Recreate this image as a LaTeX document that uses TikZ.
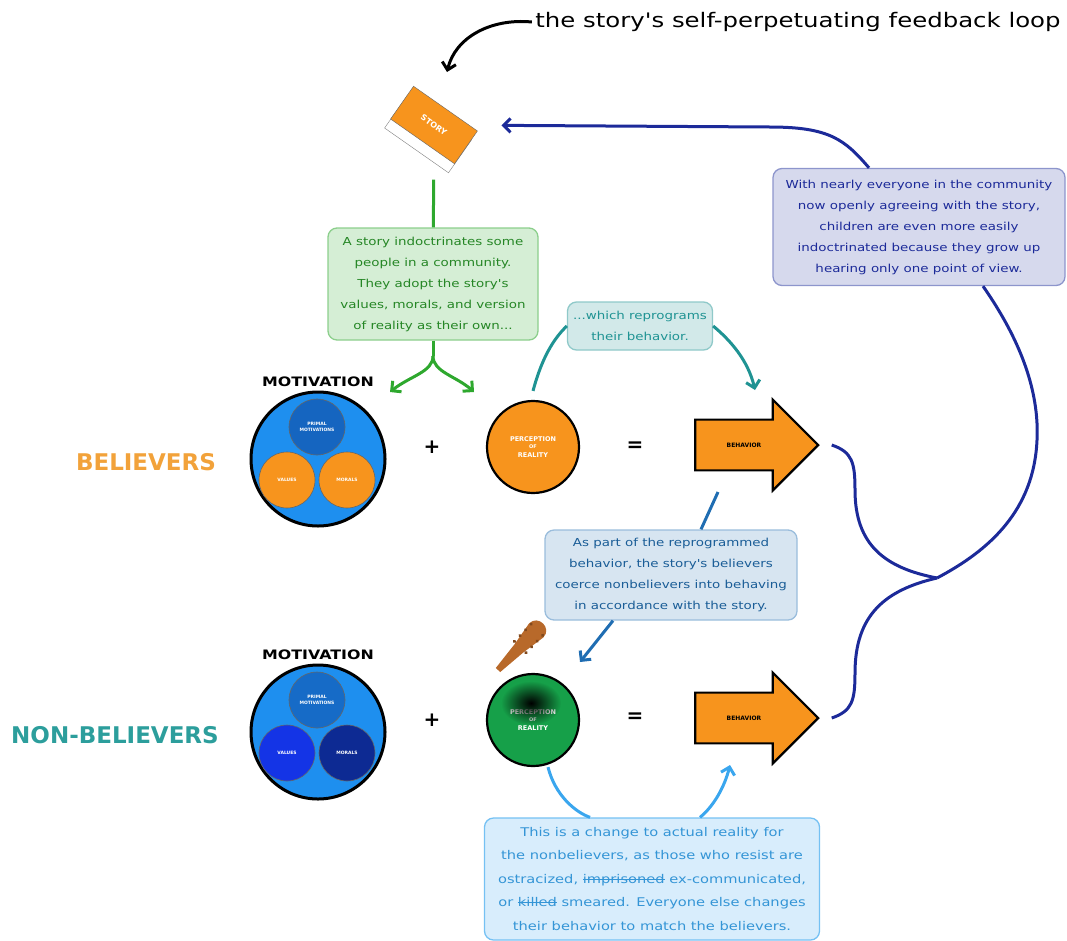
\documentclass[tikz,border=0pt]{standalone}
\usepackage{fontspec}
\setmainfont{DejaVu Sans}
\newfontfamily\handfont[FakeStretch=1.22]{DejaVu Sans}
\usetikzlibrary{arrows.meta,shapes.arrows,fadings}

\newcommand\strikeword[1]{\setbox0\hbox{#1}\rlap{\raisebox{0.3em}{\rule{\wd0}{1pt}}}\box0\relax}

\definecolor{cover}{HTML}{F7941D}
\definecolor{skyring}{HTML}{1E8FEF}
\definecolor{primal}{HTML}{1565C0}
\definecolor{royal}{HTML}{1434E6}
\definecolor{deepnavy}{HTML}{0D2A93}
\definecolor{grass}{HTML}{16A049}
\definecolor{loopnavy}{HTML}{1C2A99}
\definecolor{leaf}{HTML}{2EA82E}
\definecolor{sea}{HTML}{1F9393}
\definecolor{steel}{HTML}{1F6DB2}
\definecolor{sky}{HTML}{3AA6EE}
\definecolor{club}{HTML}{B8692A}
\definecolor{believer}{HTML}{F2A23A}
\definecolor{nonbeliever}{HTML}{2C9E9C}

\tikzfading[name=smudge, inner color=transparent!0, outer color=transparent!100]

\begin{document}
\begin{tikzpicture}[x=1pt, y=-1pt,
  note/.style={draw, rounded corners=9pt, line width=1.3pt, align=center,
    inner sep=0pt, font=\handfont\fontsize{11}{21}\selectfont},
  ring/.style={circle, draw=black, line width=3pt, fill=skyring,
    minimum size=134pt, inner sep=0pt},
  bubble/.style={circle, draw=black!60, line width=0.6pt, minimum size=56pt,
    inner sep=0pt, align=center, text=white,
    font=\fontsize{4.5}{6}\selectfont\bfseries},
  lens/.style={circle, draw=black, line width=2.2pt, minimum size=92pt,
    inner sep=0pt, align=center, text=white,
    font=\fontsize{6.5}{9}\selectfont\bfseries},
  act/.style={single arrow, draw=black, line width=2.2pt, fill=cover,
    minimum height=123pt, inner xsep=4pt, inner ysep=22pt,
    single arrow head extend=20pt, font=\fontsize{6}{7}\selectfont\bfseries},
  sign/.style={font=\fontsize{20}{20}\selectfont\bfseries},
  group/.style={font=\fontsize{23}{23}\selectfont\bfseries},
  heading/.style={font=\handfont\bfseries\fontsize{13}{13}\selectfont},
  inkhead/.style={-{Straight Barb[length=7pt,width=14pt]}},
  wire/.style={line width=3pt},
]
\useasboundingbox (0,0) rectangle (1067,940);

\node[font=\handfont\fontsize{20}{20}\selectfont] (title) at (798,22)
  {the story's self-perpetuating feedback loop};
\coordinate (bookhint) at (447,72);
\draw[wire, inkhead] (title.west) .. controls (490,18) and (455,38) .. (bookhint);

\node[rotate=-35, draw=black!50, fill=white, minimum width=78pt,
  minimum height=40pt] (pages) at (428,134) {};
\node[rotate=-35, draw=black!60, fill=cover, minimum width=78pt,
  minimum height=40pt, text=white,
  font=\fontsize{8}{8}\selectfont\bfseries] (story) at (434,125) {STORY};

\node[note, fill=leaf!20, draw=leaf!55, text=leaf!80!black,
  minimum width=210pt, minimum height=112pt] (indoc) at (433,284)
  {A story indoctrinates some\\people in a community.\\They adopt the story's\\
   values, morals, and version\\of reality as their own...};
\draw[leaf, wire, shorten <=30pt] (story) -- (indoc);
\coordinate (split) at (433,356);
\coordinate (motaim) at (390,392);
\coordinate (percaim) at (474,392);
\draw[leaf, wire] (indoc) -- (split);
\draw[leaf, wire, inkhead] (split) .. controls (433,372) and (410,376) .. (motaim);
\draw[leaf, wire, inkhead] (split) .. controls (433,372) and (456,376) .. (percaim);

\node[note, fill=sea!20, draw=sea!50, text=sea, minimum width=145pt,
  minimum height=48pt] (reprog) at (640,326) {...which reprograms\\their behavior.};

\node[note, fill=loopnavy!18, draw=loopnavy!50, text=loopnavy,
  minimum width=292pt, minimum height=117pt] (feedback) at (919,227)
  {With nearly everyone in the community\\now openly agreeing with the story,\\
   children are even more easily\\indoctrinated because they grow up\\
   hearing only one point of view.};

% believers row
\node[heading] (motlabB) at (318,382) {MOTIVATION};
\node[ring] (motB) at (318,459) {};
\node[bubble, fill=primal] (primB) at (317,427) {PRIMAL\\MOTIVATIONS};
\node[bubble, fill=cover] (valB) at (287,480) {VALUES};
\node[bubble, fill=cover] (morB) at (347,480) {MORALS};
\node[group, text=believer] (believers) at (146,462) {BELIEVERS};
\node[sign] (plusB) at (432,447) {+};
\node[lens, fill=cover] (percB) at (533,447) {PERCEPTION\\[-2pt]{\tiny OF}\\REALITY};
\node[sign] (eqB) at (635,447) {=};
\node[act] (behB) at (744,445) {BEHAVIOR};

\coordinate (reprogaim) at (755,390);
\draw[sea, wire] ([yshift=9pt]percB.north) .. controls (540,365) and (550,342) .. (reprog.west);
\draw[sea, wire, inkhead] (reprog.east) .. controls (730,340) and (748,360) .. (reprogaim);

\node[note, fill=steel!18, draw=steel!45, text=steel!85!black,
  minimum width=252pt, minimum height=90pt] (coerce) at (671,575)
  {As part of the reprogrammed\\behavior, the story's believers\\
   coerce nonbelievers into behaving\\in accordance with the story.};
\coordinate (coercefrom) at (718,492);
\coordinate (clubaim) at (580,662);
\draw[steel, wire] (coercefrom) -- ([xshift=30pt]coerce.north);
\draw[steel, wire, inkhead] ([xshift=-58pt]coerce.south) -- (clubaim);

% non-believers row
\node[heading] (motlabN) at (318,655) {MOTIVATION};
\node[ring] (motN) at (318,732) {};
\node[bubble, fill=primal!85!skyring] (primN) at (317,700) {PRIMAL\\MOTIVATIONS};
\node[bubble, fill=royal] (valN) at (287,753) {VALUES};
\node[bubble, fill=deepnavy] (morN) at (347,753) {MORALS};
\node[group, text=nonbeliever] (nonbelievers) at (115,735) {NON-BELIEVERS};
\node[sign] (plusN) at (432,720) {+};
\node[lens, fill=grass] (percN) at (533,720) {PERCEPTION\\[-2pt]{\tiny OF}\\REALITY};
\fill[black, path fading=smudge] (531,703) ellipse (30pt and 22pt);
\node[sign] (eqN) at (635,718) {=};
\node[act] (behN) at (744,718) {BEHAVIOR};

\begin{scope}[shift={(498,670)}, rotate=46]
  \fill[club] (0,-3) -- (30,-6) -- (55,-10) .. controls (68,-10) and (68,10) .. (55,10)
    -- (30,6) -- (0,3) -- cycle;
  \foreach \s in {32,40,48,56}
    {\fill[club!70!black] (\s,-8) circle (1.8pt);
     \fill[club!70!black] (\s,8) circle (1.8pt);}
\end{scope}

\node[note, fill=sky!20, draw=sky!70, text=sky!90!black, minimum width=335pt,
  minimum height=122pt, font=\handfont\fontsize{12}{23.5}\selectfont] (reality) at (652,879)
  {This is a change to actual reality for\\the nonbelievers, as those who resist are\\
   ostracized, \strikeword{imprisoned} ex-communicated,\\or \strikeword{killed} smeared. Everyone else changes\\
   their behavior to match the believers.};
\coordinate (skyaim) at (730,765);
\draw[sky, wire] ([xshift=15pt]percN.south) .. controls (555,795) and (575,812) .. ([xshift=-62pt]reality.north);
\draw[sky, wire, inkhead] ([xshift=48pt]reality.north) .. controls (715,805) and (725,785) .. (skyaim);

% feedback loop
\coordinate (merge) at (937,578);
\draw[loopnavy, wire] ([xshift=12pt]behB.tip) .. controls (852,452) and (855,462) .. (855,490)
  .. controls (855,545) and (885,568) .. (merge);
\draw[loopnavy, wire] ([xshift=12pt]behN.tip) .. controls (852,711) and (855,701) .. (855,673)
  .. controls (855,615) and (885,590) .. (merge);
\draw[loopnavy, wire] (merge) .. controls (990,550) and (1034,510) .. (1037,440)
  .. controls (1040,380) and (1010,325) .. ([xshift=64pt]feedback.south);
\draw[loopnavy, wire, inkhead, shorten >=32pt] ([xshift=-50pt]feedback.north)
  .. controls (845,140) and (830,127) .. (770,127) -- (story);
\end{tikzpicture}
\end{document}
